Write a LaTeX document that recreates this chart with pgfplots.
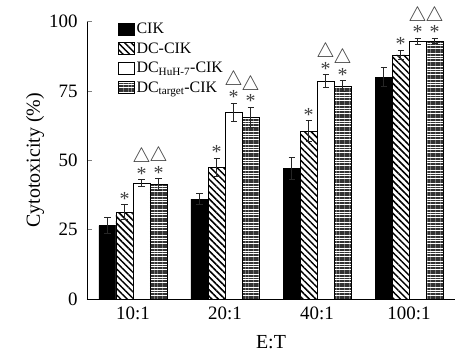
\documentclass[border=0pt]{standalone}
\usepackage{pgfplots}
\pgfplotsset{compat=1.18}
\usepackage{pgfplotstable}
\usepackage{fontspec}
\setmainfont{Liberation Serif}
\usetikzlibrary{patterns.meta}

\pgfplotstableread{
x y err
1 26.5 3
2 36 2
3 47 4
4 80 3.5
}\cik
\pgfplotstableread{
x y err
1 31.2 2.7
2 47.5 3.3
3 60.5 3.7
4 88 1.7
}\dccik
\pgfplotstableread{
x y err
1 41.8 1.2
2 67.3 3.3
3 78.5 2.3
4 92.8 1.2
}\dchuh
\pgfplotstableread{
x y err
1 41.3 2
2 65.5 3.6
3 76.7 2
4 93 1
}\dctarget

\begin{document}
\begin{tikzpicture}
\useasboundingbox (-87bp,-55bp) rectangle (369bp,299bp);
\begin{axis}[
  x=92bp, y=2.773bp,
  xmin=0.5, xmax=4.5, ymin=0, ymax=100,
  enlargelimits=false,
  clip=false,
  axis lines=left,
  axis line style={-, line width=1pt},
  ybar, bar width=17bp,
  xtick={1,2,3,4},
  xticklabels={10:1,20:1,40:1,100:1},
  ytick={0,25,50,75,100},
  x tick style={draw=none},
  y tick style={line width=1pt},
  tick align=inside,
  major tick length=5bp,
  /pgf/number format/assume math mode=true,
  tick label style={font=\fontsize{19}{22}\selectfont},
  xticklabel style={yshift=-4bp},
  yticklabel style={xshift=-6bp},
  xlabel={E:T},
  ylabel={Cytotoxicity (\%)},
  label style={font=\fontsize{20}{24}\selectfont},
  xlabel style={yshift=-9bp},
  ylabel style={yshift=-2bp},
  legend style={at={(axis description cs:0.075,1.01)}, anchor=north west,
     draw=none, fill=none, font=\fontsize{16}{20}\selectfont,
     row sep=3.5bp, /tikz/every even column/.append style={column sep=2bp}},
  legend cell align=left,
  legend image code/.code={\draw[#1, line width=0.8pt] (0bp,-6bp) rectangle (16bp,6bp);},
  error bars/y dir=both, error bars/y explicit,
  error bars/error bar style={line width=1pt, black!85},
  error bars/error mark options={rotate=90, mark size=3bp, line width=1pt, black!85},
  visualization depends on={\thisrow{err} \as \errv},
  every node near coord/.append style={anchor=south, inner sep=0pt,
     yshift=\errv*2.773bp-1bp, font=\fontsize{20}{21}\selectfont, align=center, text=black!75},
]
\addplot[fill=white, draw=black, line width=0.8pt, bar shift=-25.5bp, fill=black]
  table[x=x, y=y, y error=err] {\cik};
\addlegendentry{CIK}
\addplot[fill=white, draw=black, line width=0.8pt, bar shift=-8.5bp,
  postaction={pattern={Lines[angle=-45, distance=4.6bp, line width=1.5bp]}},
  nodes near coords={*}]
  table[x=x, y=y, y error=err] {\dccik};
\addlegendentry{DC-CIK}
\addplot[fill=white, draw=black, line width=0.8pt, bar shift=8.5bp,
  nodes near coords={$\triangle$\\[-3bp]*}]
  table[x=x, y=y, y error=err] {\dchuh};
\addlegendentry{DC\textsubscript{HuH-7}-CIK}
\addplot[fill=white, draw=black, line width=0.8pt, bar shift=25.5bp,
  postaction={pattern={Lines[angle=0, distance=2.6bp, line width=1.8bp]}, pattern color=black!80},
  nodes near coords={$\triangle$\\[-3bp]*}]
  table[x=x, y=y, y error=err] {\dctarget};
\addlegendentry{DC\textsubscript{target}-CIK}
\end{axis}
\end{tikzpicture}
\end{document}
